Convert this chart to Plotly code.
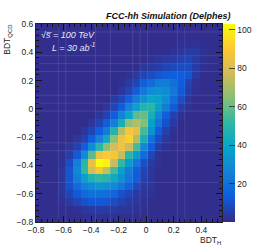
import plotly.graph_objects as go

bird = [[0.000,"rgb(53,42,135)"],[0.125,"rgb(15,92,221)"],[0.250,"rgb(20,129,214)"],
        [0.375,"rgb(6,164,202)"],[0.500,"rgb(46,183,164)"],[0.625,"rgb(135,191,119)"],
        [0.750,"rgb(209,187,89)"],[0.875,"rgb(254,200,50)"],[1.000,"rgb(249,251,14)"]]

x_first_bin = -0.773
x_bin = 0.054
y_first_bin = -0.772
y_bin = 0.056
z_min, z_max = 0, 103

# rows listed from the top of the plot to the bottom
row_00 = [1,1,1,1,1,1,1,1,1,1,1,1,1,1,1,1,1,1,1,1,1,1,1,1,1]
row_01 = [1,1,1,1,1,1,1,1,1,1,1,1,1,1,1,1,1,1,1,1,1,1,1,1,1]
row_02 = [1,1,1,1,1,1,1,1,1,1,1,1,1,1,1,1,1,1,1,2,2,2,1,1,1]
row_03 = [1,1,1,1,1,1,1,1,1,1,1,1,1,1,1,1,1,1,2,3,4,4,2,1,1]
row_04 = [1,1,1,1,1,1,1,1,1,1,1,1,1,1,1,2,3,4,5,6,7,5,2,1,1]
row_05 = [1,1,1,1,1,1,1,1,1,1,1,1,1,1,3,4,5,7,8,9,9,5,2,1,1]
row_06 = [1,1,1,1,1,1,1,1,1,1,1,1,2,4,7,9,11,13,14,13,11,4,1,1,1]
row_07 = [1,1,1,1,1,1,1,1,1,1,1,2,4,7,14,18,24,24,20,13,6,2,1,1,1]
row_08 = [1,1,1,1,1,1,1,1,1,1,1,3,7,13,22,30,32,30,22,12,5,2,1,1,1]
row_09 = [1,1,1,1,1,1,1,1,1,1,4,7,14,24,32,40,38,30,18,9,3,1,1,1,1]
row_10 = [1,1,1,1,1,1,1,1,1,3,7,13,26,38,48,50,38,24,12,5,2,1,1,1,1]
row_11 = [1,1,1,1,1,1,1,1,3,6,13,26,40,58,60,45,28,14,6,2,1,1,1,1,1]
row_12 = [1,1,1,1,1,1,1,3,7,14,25,45,66,72,64,38,22,10,4,1,1,1,1,1,1]
row_13 = [1,1,1,1,1,1,3,7,14,24,48,72,88,82,55,32,14,6,2,1,1,1,1,1,1]
row_14 = [1,1,1,1,1,3,6,14,26,42,66,85,92,72,45,20,9,3,1,1,1,1,1,1,1]
row_15 = [1,1,1,1,3,6,14,30,50,65,78,85,76,55,28,13,5,2,1,1,1,1,1,1,1]
row_16 = [1,1,1,2,5,12,30,58,85,90,88,75,50,35,18,7,2,1,1,1,1,1,1,1,1]
row_17 = [1,1,1,2,9,25,50,84,103,100,76,52,35,22,10,4,2,1,1,1,1,1,1,1,1]
row_18 = [1,1,1,3,11,28,52,78,88,75,55,38,24,14,7,3,1,1,1,1,1,1,1,1,1]
row_19 = [1,1,1,3,11,25,38,48,52,50,42,32,22,13,6,3,1,1,1,1,1,1,1,1,1]
row_20 = [1,1,1,3,10,18,25,30,33,32,28,22,15,8,4,3,1,1,1,1,1,1,1,1,1]
row_21 = [1,1,1,3,7,12,17,20,20,19,16,10,7,4,3,2,1,1,1,1,1,1,1,1,1]
row_22 = [1,1,1,2,4,7,10,12,12,11,9,6,4,3,2,1,1,1,1,1,1,1,1,1,1]
row_23 = [1,1,1,1,1,2,3,4,4,4,4,3,3,2,2,1,1,1,1,1,1,1,1,1,1]
row_24 = [1,1,1,1,1,1,2,2,2,2,2,2,1,1,1,1,1,1,1,1,1,1,1,1,1]
rows_top_down = [row_00,row_01,row_02,row_03,row_04,row_05,row_06,row_07,row_08,row_09,
                 row_10,row_11,row_12,row_13,row_14,row_15,row_16,row_17,row_18,row_19,
                 row_20,row_21,row_22,row_23,row_24]

seam_cols = [3,4,8,10,13,14,15,19,20]
seam_rows_from_top = [1,4,5,6,9,10,11,15,16,20]

fig = go.Figure(go.Heatmap(
    z=rows_top_down[::-1], x0=x_first_bin, dx=x_bin, y0=y_first_bin, dy=y_bin,
    zmin=z_min, zmax=z_max, colorscale=bird, zsmooth=False,
    colorbar=dict(x=1.005, xanchor="left", xpad=0, y=0, yanchor="bottom", len=1, ypad=0,
                  thickness=12, outlinewidth=0, ticks="inside", ticklen=6, tickwidth=1,
                  tickcolor="rgba(40,40,40,0.8)", tickvals=[20,40,60,80,100],
                  tickfont=dict(family="Liberation Sans", size=8.5, color="#222"))))

seam = dict(color="rgba(255,255,255,0.1)", width=1)
for k in seam_cols:
    v = -0.8 + k * x_bin
    fig.add_shape(type="line", xref="x", yref="paper", x0=v, x1=v, y0=0, y1=1, line=seam, layer="above")
for k in seam_rows_from_top:
    v = 0.6 - k * y_bin
    fig.add_shape(type="line", xref="paper", yref="y", x0=0, x1=1, y0=v, y1=v, line=seam, layer="above")

axis = dict(showgrid=False, zeroline=False, showline=True, linecolor="#222", linewidth=1, mirror="ticks",
            ticks="inside", ticklen=6, tickwidth=1, tickcolor="#111", dtick=0.2, tick0=-0.8,
            tickfont=dict(family="Liberation Sans", size=8.5, color="#222"),
            minor=dict(ticks="inside", ticklen=3, tickwidth=1, tickcolor="#111", dtick=0.04, tick0=-0.8, showgrid=False))
fig.update_xaxes(range=[-0.8, 0.55], **axis)
fig.update_yaxes(range=[-0.8, 0.6], **axis)

def label(text, x, y, size=8.5, color="#222", xanchor="left", yanchor="middle", angle=0):
    fig.add_annotation(text=text, xref="paper", yref="paper", x=x, y=y, xanchor=xanchor, yanchor=yanchor,
                       showarrow=False, textangle=angle, borderpad=0,
                       font=dict(family="Liberation Sans", size=size, color=color))

W, H = 186.0, 197.7
px = lambda v: (v - 36) / W
py = lambda v: (222 - v) / H
label("<b><i>FCC-hh Simulation (Delphes)</i></b>", px(232), py(16.5), size=9, color="#111", xanchor="right")
label("<i>√s̅ = 100 TeV</i>", px(40), py(35.5), size=9, color="#e8e8f4")
label("<i>L = 30 ab<sup>-1</sup></i>", px(50.5), py(47.5), size=9, color="#e8e8f4")
label("BDT<sub>H</sub>", px(222), py(240), xanchor="right")
label("BDT<sub>QCD</sub>", px(8), py(24), angle=-90, xanchor="center", yanchor="top")

fig.update_layout(width=258, height=247, autosize=False, paper_bgcolor="white", plot_bgcolor="white",
                  margin=dict(l=36, r=36, t=24.3, b=25, autoexpand=False), showlegend=False)
fig.write_html("out.html", config={"displayModeBar": False},
               post_script="document.body.style.margin='0';document.body.style.overflow='hidden';")
